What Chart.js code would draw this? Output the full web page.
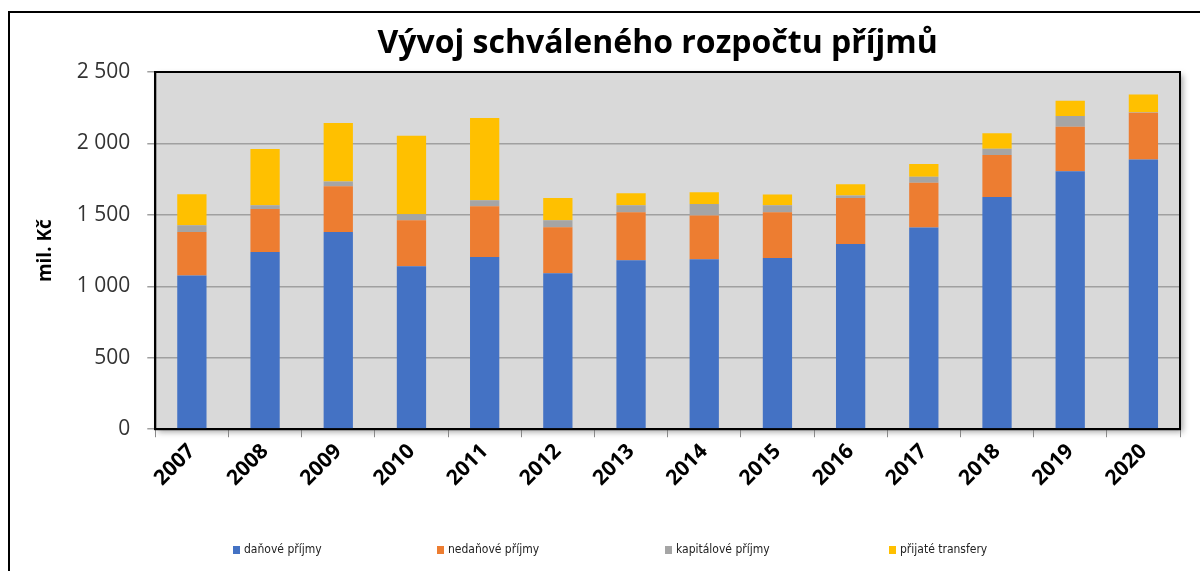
<!DOCTYPE html>
<html>
<head>
<meta charset="utf-8">
<script src="https://cdn.jsdelivr.net/npm/chart.js@4"></script>
<style>
  html, body { margin: 0; padding: 0; background: #fff; }
  #wrap { position: relative; width: 1200px; height: 571px; overflow: hidden; }
  #legend { position: absolute; left: 0; top: 542px; width: 1200px; font: 12px 'DejaVu Sans Condensed', 'DejaVu Sans', sans-serif; color: #222; }
  #legend span.item { position: absolute; white-space: nowrap; }
  #legend i { display: inline-block; width: 7px; height: 8px; margin-right: 4px; vertical-align: -1px; }
</style>
</head>
<body>
<div id="wrap">
  <canvas id="c" width="1200" height="571"></canvas>
  <div id="legend"></div>
</div>
<script>
// categories and series (mil. Kč)
const years = ['2007', '2008', '2009', '2010', '2011', '2012', '2013', '2014', '2015', '2016', '2017', '2018', '2019', '2020']
const danove = [1075, 1241, 1381, 1141, 1206, 1091, 1183, 1190, 1199, 1297, 1412, 1626, 1806, 1888]
const nedanove = [306, 301, 320, 322, 355, 323, 336, 306, 320, 322, 313, 293, 311, 327]
const kapitalove = [47, 26, 33, 42, 42, 49, 49, 81, 49, 17, 42, 44, 75, 3]
const transfery = [217, 393, 409, 549, 575, 156, 84, 82, 75, 79, 89, 108, 107, 124]

const seriesNames = ['daňové příjmy', 'nedaňové příjmy', 'kapitálové příjmy', 'přijaté transfery']
const seriesColors = ['#4472c4', '#ed7d31', '#a5a5a5', '#ffc000']
const yTicks = [0, 500, 1000, 1500, 2000, 2500]
const chartTitle = 'Vývoj schváleného rozpočtu příjmů'

const FONT = "'Open Sans', 'Liberation Sans', sans-serif"

// outer frame, grey plot background, plot border and the title
const frame = {
  id: 'frame',
  beforeDraw(chart) {
    const { ctx, chartArea: a } = chart
    ctx.save()
    ctx.strokeStyle = '#000'
    ctx.lineWidth = 2
    ctx.strokeRect(9, 12, 1220, 620)
    ctx.shadowColor = 'rgba(0,0,0,0.35)'
    ctx.shadowBlur = 6
    ctx.shadowOffsetX = 3
    ctx.shadowOffsetY = 3
    ctx.fillStyle = '#d9d9d9'
    ctx.fillRect(a.left, a.top, a.right - a.left, a.bottom - a.top)
    ctx.restore()
  },
  afterDatasetsDraw(chart) {
    const { ctx, chartArea: a } = chart
    ctx.save()
    ctx.strokeStyle = '#000'
    ctx.lineWidth = 2
    ctx.strokeRect(a.left, a.top, a.right - a.left, a.bottom - a.top)
    // title sits a bit left of the plot centre, as in the original
    ctx.fillStyle = '#000'
    ctx.font = 'bold 32px ' + FONT
    ctx.textAlign = 'center'
    ctx.textBaseline = 'middle'
    ctx.fillText(chartTitle, (a.left + a.right) / 2 - 10, 44)
    ctx.restore()
  },
}

const data = [danove, nedanove, kapitalove, transfery]

new Chart(document.getElementById('c'), {
  type: 'bar',
  data: {
    labels: years,
    datasets: data.map((d, i) => ({
      label: seriesNames[i],
      data: d,
      backgroundColor: seriesColors[i],
      borderWidth: 0,
      categoryPercentage: 0.8,
      barPercentage: 0.5,
    })),
  },
  options: {
    responsive: false,
    animation: false,
    layout: { padding: { top: 72, right: 20, bottom: 78, left: 30 } },
    plugins: {
      legend: { display: false },
      tooltip: { enabled: false },
      title: { display: false },
    },
    scales: {
      x: {
        stacked: true,
        grid: { display: true, drawOnChartArea: false, offset: true, color: '#888', tickLength: 8 },
        border: { color: '#000', width: 2 },
        ticks: {
          color: '#000',
          font: { family: FONT, size: 21, weight: 'bold' },
          minRotation: 45,
          maxRotation: 45,
          padding: 2,
        },
      },
      y: {
        stacked: true,
        min: 0,
        max: 2500,
        afterBuildTicks: s => { s.ticks = yTicks.map(v => ({ value: v })) },
        grid: { color: '#a0a0a0', lineWidth: 1.5, tickLength: 8 },
        border: { color: '#000', width: 2 },
        ticks: {
          color: '#333',
          font: { family: FONT, size: 21 },
          padding: 17,
          callback: v => String(v).replace(/\B(?=(\d{3})+(?!\d))/g, ' '),
        },
        title: {
          display: true,
          text: 'mil. Kč',
          color: '#000',
          font: { family: FONT, size: 19, weight: 'bold' },
          padding: { bottom: 3 },
        },
      },
    },
  },
  plugins: [frame],
})

// legend spread over the bottom row like in the original
const legendX = [233, 437, 665, 889]
const legend = document.getElementById('legend')
seriesNames.forEach((name, i) => {
  const el = document.createElement('span')
  el.className = 'item'
  el.style.left = legendX[i] + 'px'
  el.innerHTML = '<i style="background:' + seriesColors[i] + '"></i>' + name
  legend.appendChild(el)
})
</script>
</body>
</html>
